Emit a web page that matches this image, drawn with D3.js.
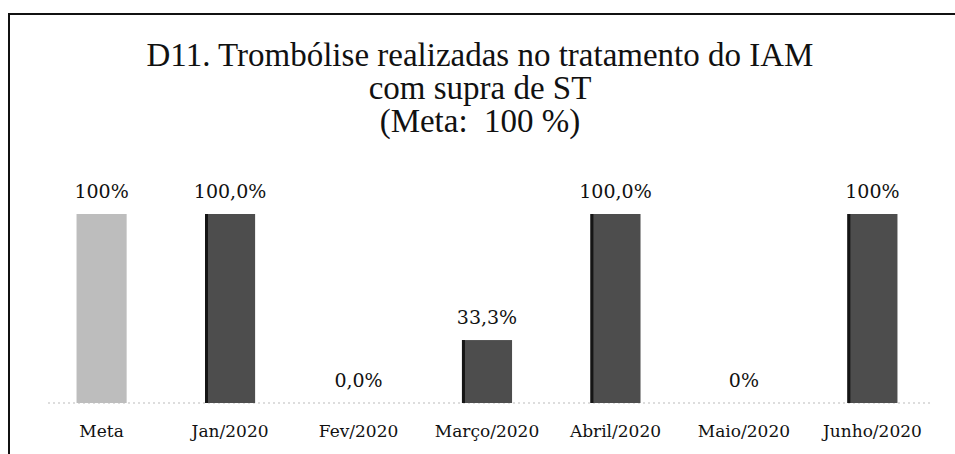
<!DOCTYPE html>
<html>
<head>
<meta charset="utf-8">
<script src="https://cdn.jsdelivr.net/npm/d3@7"></script>
<style>
  body { margin: 0; background: #fff; }
  text { fill: #111; }
  .title { font-family: "Liberation Serif", "DejaVu Serif", serif; }
  .lbl { font-family: "DejaVu Serif", "Liberation Serif", serif; }
</style>
</head>
<body>
<svg width="955" height="454"></svg>
<script>
// data
const categories = ['Meta', 'Jan/2020', 'Fev/2020', 'Março/2020', 'Abril/2020', 'Maio/2020', 'Junho/2020'];
const values = [100, 100, 0, 33.3, 100, 0, 100];
const valueLabels = ['100%', '100,0%', '0,0%', '33,3%', '100,0%', '0%', '100%'];
const titleLines = ['D11. Trombólise realizadas no tratamento do IAM', 'com supra de ST', '(Meta:  100 %)'];

const svg = d3.select('svg');

// frame of the scanned box
svg.append('path')
  .attr('d', 'M9,454 V14 H955')
  .attr('fill', 'none')
  .attr('stroke', '#111')
  .attr('stroke-width', 2);

// title
svg.append('g').selectAll('text')
  .data(titleLines)
  .join('text')
  .attr('class', 'title')
  .attr('x', 480)
  .attr('y', (d, i) => 66 + i * 33)
  .attr('text-anchor', 'middle')
  .attr('font-size', 33)
  .style('white-space', 'pre')
  .text(d => d);

let x = d3.scaleBand()
  .domain(categories)
  .range([38, 936])
  .paddingInner(0.61)
  .paddingOuter(0.3);

let y = d3.scaleLinear()
  .domain([0, 100])
  .range([403, 214]);

// baseline (dotted)
svg.append('line')
  .attr('x1', 48).attr('x2', 930)
  .attr('y1', y(0)).attr('y2', y(0))
  .attr('stroke', '#bbb')
  .attr('stroke-width', 1.2)
  .attr('stroke-dasharray', '2,3');

let bars = svg.append('g');
bars.selectAll('rect')
  .data(values)
  .join('rect')
  .attr('x', (d, i) => x(categories[i]))
  .attr('y', d => y(d))
  .attr('width', x.bandwidth())
  .attr('height', d => y(0) - y(d))
  .attr('fill', (d, i) => i === 0 ? '#bdbdbd' : '#4d4d4d');

// darker left edge like the scan
bars.selectAll('line')
  .data(values.map((v, i) => [v, i]).filter(d => d[1] > 0 && d[0] > 0))
  .join('line')
  .attr('x1', d => x(categories[d[1]]) + 1.5)
  .attr('x2', d => x(categories[d[1]]) + 1.5)
  .attr('y1', d => y(d[0]))
  .attr('y2', y(0))
  .attr('stroke', '#151515')
  .attr('stroke-width', 3);

// value labels
svg.append('g').selectAll('text')
  .data(values)
  .join('text')
  .attr('class', 'lbl')
  .attr('x', (d, i) => x(categories[i]) + x.bandwidth() / 2)
  .attr('y', d => y(d) - 16)
  .attr('text-anchor', 'middle')
  .attr('font-size', 19)
  .text((d, i) => valueLabels[i]);

// category axis
let axis = svg.append('g')
  .attr('transform', `translate(0, ${y(0) + 16})`)
  .call(d3.axisBottom(x).tickSize(0).tickPadding(6));
axis.select('.domain').remove();
axis.selectAll('text')
  .attr('class', 'lbl')
  .attr('font-size', 17)
  .attr('fill', '#111')
  .style('font-family', '"DejaVu Serif", "Liberation Serif", serif');
</script>
</body>
</html>
